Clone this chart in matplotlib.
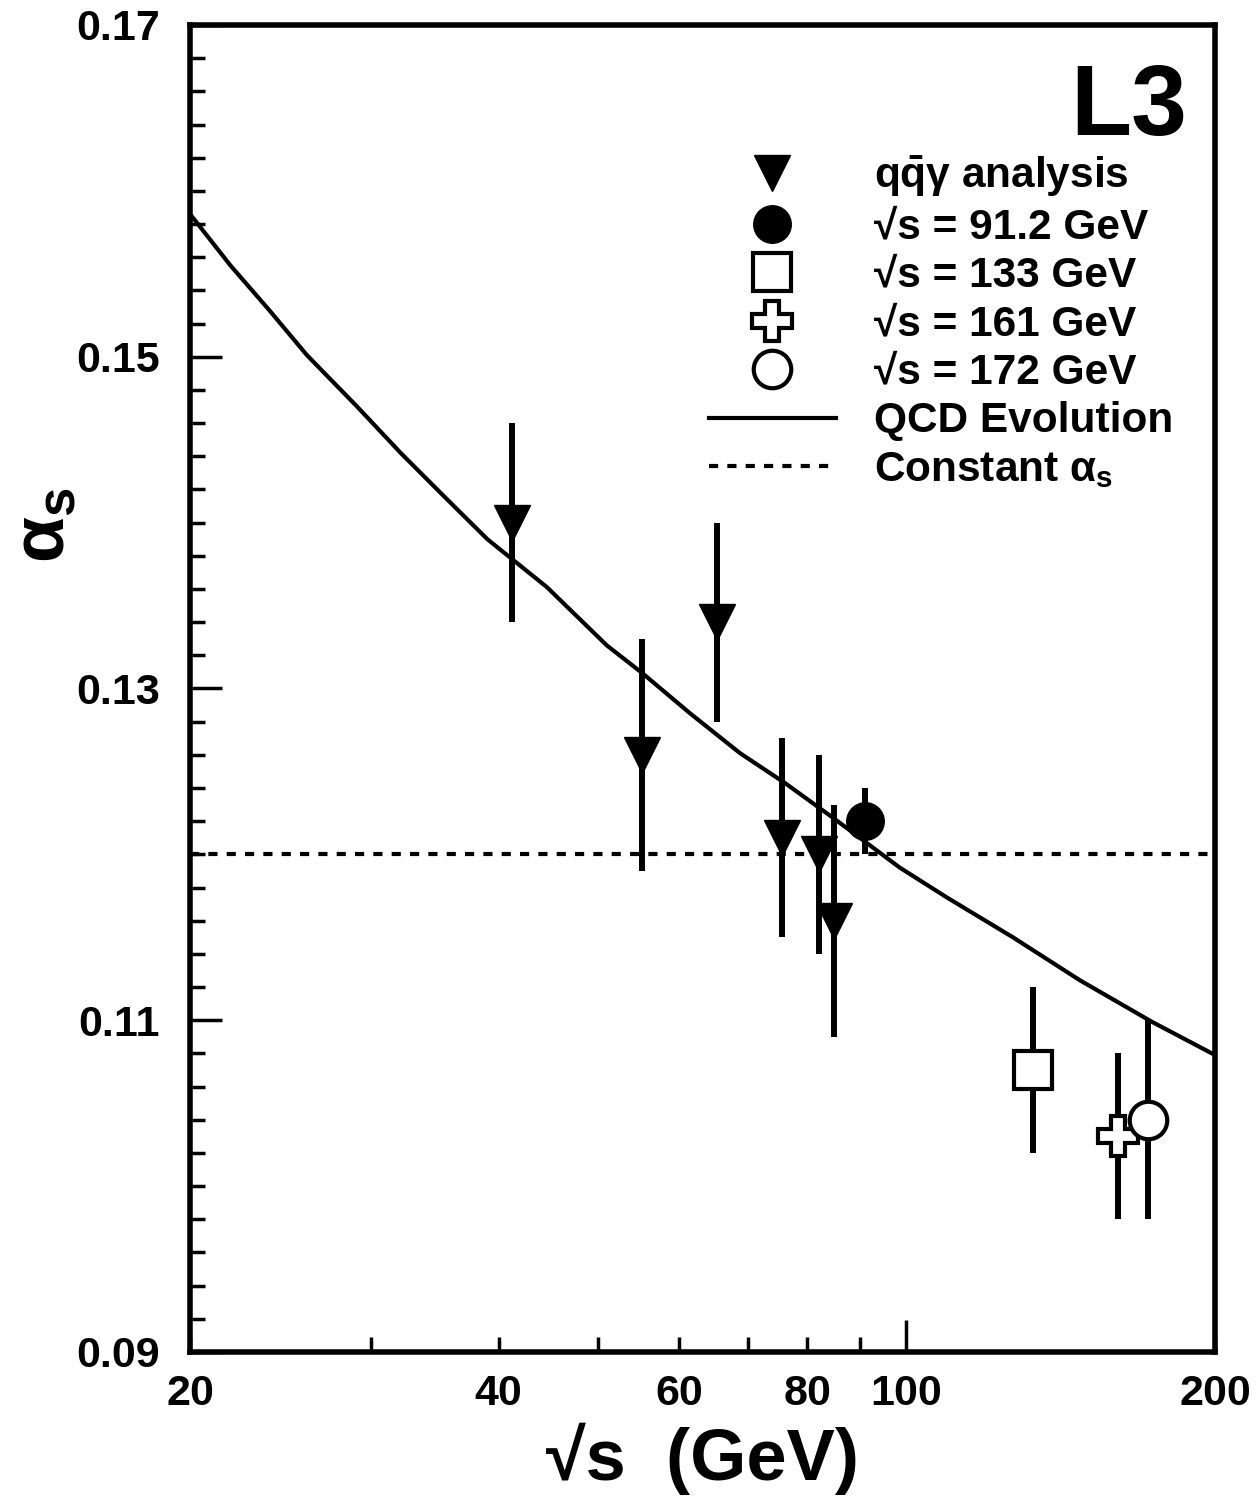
import numpy as np
import matplotlib
matplotlib.use('Agg')
import matplotlib.pyplot as plt
from matplotlib.ticker import FixedLocator, FuncFormatter, MultipleLocator

plt.rcParams['font.family'] = ['Liberation Sans', 'DejaVu Sans']
plt.rcParams['font.weight'] = 'bold'
plt.rcParams['mathtext.fontset'] = 'custom'
plt.rcParams['mathtext.rm'] = 'Liberation Sans:bold'
plt.rcParams['mathtext.it'] = 'Liberation Sans:bold'
plt.rcParams['mathtext.bf'] = 'Liberation Sans:bold'
plt.rcParams['mathtext.sf'] = 'Liberation Sans:bold'

# qq-gamma analysis points
tri_x = [41.2, 55.2, 65.3, 75.6, 82.2, 85.0]
tri_y = [0.140, 0.126, 0.134, 0.121, 0.120, 0.116]
tri_err = [0.006, 0.007, 0.006, 0.006, 0.006, 0.007]

# single energy points
z_x, z_y, z_err = [91.2], [0.122], [0.002]
e133_x, e133_y, e133_err = [133.0], [0.107], [0.005]
e161_x, e161_y, e161_err = [161.0], [0.103], [0.005]
e172_x, e172_y, e172_err = [172.0], [0.104], [0.006]

# QCD evolution curve
qcd_x = [20.0, 21.9, 23.9, 26.0, 29.1, 32.1, 35.1, 39.0, 44.6, 51.0, 55.3, 61.5,
         68.8, 76.1, 84.8, 98.5, 109.5, 127.0, 147.7, 173.6, 200.0]
qcd_y = [0.1586, 0.1555, 0.1528, 0.1501, 0.1470, 0.1442, 0.1418, 0.1390, 0.1361,
         0.1326, 0.1309, 0.1285, 0.1261, 0.1243, 0.1222, 0.1192, 0.1174, 0.1150,
         0.1124, 0.1099, 0.1079]
const_alpha = 0.120

y_ticks = [0.09, 0.11, 0.13, 0.15, 0.17]
x_minor = [20, 30, 40, 50, 60, 70, 80, 90, 200]
x_labelled = [20, 40, 60, 80, 100, 200]

labels = [r'$\mathbf{q\bar{q}}\gamma$ analysis', '√s = 91.2 GeV', '√s = 133 GeV',
          '√s = 161 GeV', '√s = 172 GeV', 'QCD Evolution', r'Constant $\alpha_{s}$']

fig = plt.figure(figsize=(12.57, 14.96), dpi=100)
ax = fig.add_axes([0.1512, 0.0963, 0.8154, 0.887])
ax.set_xscale('log')

dash = (0, (2.2, 2.2))
qcd_line, = ax.plot(qcd_x, qcd_y, color='k', lw=3, zorder=1)
const_line = ax.axhline(const_alpha, color='k', lw=3, ls=dash, zorder=1)

ebar = dict(fmt='none', ecolor='k', elinewidth=4.3, capsize=0, zorder=2)
ax.errorbar(tri_x, tri_y, yerr=tri_err, **ebar)
ax.errorbar(z_x, z_y, yerr=z_err, **ebar)
ax.errorbar(e133_x, e133_y, yerr=e133_err, **ebar)
ax.errorbar(e161_x, e161_y, yerr=e161_err, **ebar)
ax.errorbar(e172_x, e172_y, yerr=e172_err, **ebar)

h_tri, = ax.plot(tri_x, tri_y, ls='none', marker='v', color='k', ms=26, zorder=3)
h_z, = ax.plot(z_x, z_y, ls='none', marker='o', color='k', ms=27, zorder=3)
h_133, = ax.plot(e133_x, e133_y, ls='none', marker='s', mfc='w', mec='k', mew=3, ms=27, zorder=3)
h_161, = ax.plot(e161_x, e161_y, ls='none', marker='P', mfc='w', mec='k', mew=3, ms=29, zorder=3)
h_172, = ax.plot(e172_x, e172_y, ls='none', marker='o', mfc='w', mec='k', mew=3, ms=27, zorder=3)

ax.set_xlim(20, 200)
ax.set_ylim(0.09, 0.17)

ax.xaxis.set_major_locator(FixedLocator([100]))
ax.xaxis.set_minor_locator(FixedLocator(x_minor))
fmt = FuncFormatter(lambda v, p: '%d' % round(v) if round(v) in x_labelled else '')
ax.xaxis.set_major_formatter(fmt)
ax.xaxis.set_minor_formatter(fmt)
ax.yaxis.set_major_locator(FixedLocator(y_ticks))
ax.yaxis.set_minor_locator(MultipleLocator(0.002))
ax.yaxis.set_major_formatter(FuncFormatter(lambda v, p: '%.2f' % v))

ax.tick_params(which='both', direction='in', top=False, right=False, width=2.5, labelsize=31)
ax.tick_params(which='major', length=23)
ax.tick_params(which='minor', length=11)
ax.tick_params(axis='x', which='both', pad=16)
ax.tick_params(axis='y', which='both', pad=22)
for s in ax.spines.values():
    s.set_linewidth(4)

ax.set_xlabel('√s  (GeV)', fontsize=52, fontweight='bold', labelpad=6)
ax.set_ylabel(r'$\alpha_{s}$', fontsize=54, fontweight='bold')
ax.yaxis.set_label_coords(-0.1075, 0.623)

ax.text(0.9726, 0.972, 'L3', transform=ax.transAxes, ha='right', va='top',
        fontsize=72, weight='bold')

ax.legend([h_tri, h_z, h_133, h_161, h_172, qcd_line, const_line], labels,
          loc='upper left', bbox_to_anchor=(0.506, 0.903), frameon=False,
          fontsize=30.5, handlelength=3.0, handletextpad=0.9, labelspacing=0.2,
          borderpad=0, borderaxespad=0)

fig.savefig('out.png', dpi=100)
